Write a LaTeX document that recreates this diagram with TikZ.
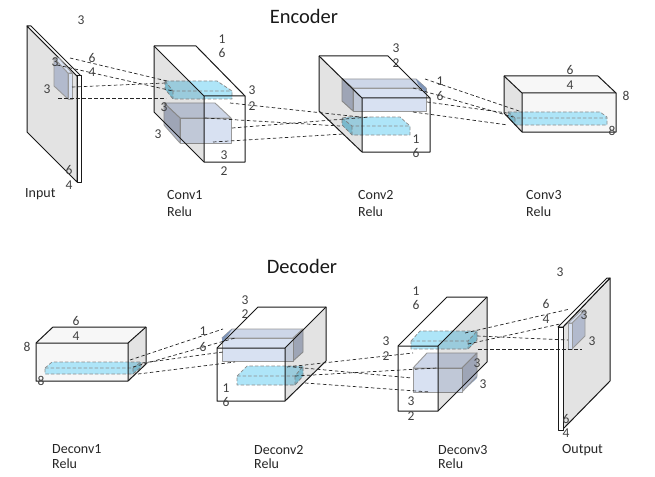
\documentclass[tikz,border=0pt]{standalone}
\usepackage{fontspec}
\setmainfont{Carlito}
\definecolor{cyanlight}{HTML}{AEE5F8}
\definecolor{cyanside}{HTML}{8BD0E6}
\definecolor{bluefront}{HTML}{D8E1F2}
\definecolor{bluetop}{HTML}{CDD6E8}
\definecolor{blueside}{HTML}{B2BACD}
\definecolor{bluedark}{HTML}{7F95B8}
\tikzset{
  dimtext/.style={font=\fontsize{13.5}{15}\selectfont, text=black!75, inner sep=0pt},
  captext/.style={font=\fontsize{14}{16}\selectfont, text=black!85, anchor=west, inner sep=0pt},
  titletext/.style={font=\fontsize{20.5}{23}\selectfont, text=black!90, inner sep=0pt},
  wire/.style={draw=black!90, line width=1pt, line join=round},
  shade/.style={fill=black, fill opacity=0.11},
  cyanbox/.style={draw=black!45, line width=0.7pt, line join=round, dash pattern=on 3.5pt off 2pt},
  bluebox/.style={draw=black!40, line width=0.9pt, line join=round},
  link/.style={draw=black!85, line width=0.7pt, dash pattern=on 3.5pt off 2.5pt}
}
\begin{document}
\begin{tikzpicture}[x=1pt, y=-1pt]
  \useasboundingbox (0,0) rectangle (655,476);
  \fill [white] (0,0) rectangle (655,476);

  % input slab
  \fill [black!11] (27,26) -- (77,76) -- (77,182) -- (27,132) -- cycle;
  \draw [wire] (27,26) -- (77,76) -- (77,182) -- (27,132) -- cycle;
  \draw [wire, fill=white] (27,26) -- (31,26) -- (81,76) -- (77,76) -- cycle;
  \draw [wire, fill=white] (77,76) rectangle (81,182);
  \draw [bluebox, fill=blueside] (54,58) -- (68,73) -- (68,99) -- (54,86) -- cycle;
  \draw [bluebox, fill=bluefront] (68,73) rectangle (72,99);
  \draw [bluebox, fill=bluefront] (54,58) -- (59,58) -- (72,73) -- (68,73) -- cycle;

  % conv1
  \fill [cyanlight] (165,81) -- (217,81) -- (232,91) -- (232,99) -- (173,99) -- (165,89) -- cycle;
  \fill [cyanside] (165,81) -- (173,91) -- (173,99) -- (165,89) -- cycle;
  \draw [cyanbox] (165,81) -- (217,81) -- (232,91) -- (232,99) -- (173,99) -- (165,89) -- cycle;
  \draw [cyanbox] (165,81) -- (173,91) -- (232,91) (173,91) -- (173,99);
  \fill [bluedark] (164,125) -- (180,143) -- (183,143) -- (166,125) -- cycle;
  \draw [bluebox, fill=bluetop] (164,103) -- (215,103) -- (231,118) -- (180,118) -- cycle;
  \draw [bluebox, fill=blueside] (164,103) -- (180,118) -- (180,143) -- (164,125) -- cycle;
  \draw [bluebox, fill=bluefront] (180,118) rectangle (231,143);
  \fill [shade] (154,46) -- (204,96) -- (204,162) -- (154,112) -- cycle;
  \draw [wire] (154,46) -- (196,46) -- (245,96) -- (245,162) -- (204,162) -- (154,112) -- cycle;
  \draw [wire] (154,46) -- (204,96) -- (204,162) (204,96) -- (245,96);

  % conv2
  \fill [cyanlight] (348,117) -- (400,117) -- (410,126) -- (410,135) -- (352,135) -- (342,125) -- (342,118) -- cycle;
  \fill [cyanside] (342,118) -- (352,126) -- (352,135) -- (342,125) -- cycle;
  \draw [cyanbox] (348,117) -- (400,117) -- (410,126) -- (410,135) -- (352,135) -- (342,125) -- (342,118) -- cycle;
  \draw [cyanbox] (342,118) -- (352,126) -- (410,126) (352,126) -- (352,135);
  \draw [bluebox, fill=bluetop] (342,79) -- (416,79) -- (426,88) -- (353,88) -- cycle;
  \draw [bluebox, fill=blueside] (342,79) -- (353,88) -- (353,111) -- (342,101) -- cycle;
  \draw [bluebox, fill=bluefront] (353,88) rectangle (426,111);
  \fill [bluedark] (416,79) -- (426,88) -- (426,93) -- (418,84) -- cycle;
  \fill [shade] (319,56) -- (362,98) -- (362,152) -- (319,111) -- cycle;
  \draw [wire] (319,56) -- (388,56) -- (430,98) -- (430,152) -- (362,152) -- (319,111) -- cycle;
  \draw [wire] (319,56) -- (362,98) -- (362,152) (362,98) -- (430,98);

  % conv3
  \fill [black!3] (504,76) -- (598,76) -- (616,93) -- (616,132) -- (522,132) -- (522,93) -- cycle;
  \fill [cyanlight] (513,112) -- (600,112) -- (607,117) -- (607,125) -- (515,125) -- (508,117) -- (508,112) -- cycle;
  \fill [cyanside] (508,112) -- (515,118) -- (515,125) -- (508,117) -- cycle;
  \draw [cyanbox] (508,112) -- (600,112) -- (607,117) -- (607,125) -- (515,125) -- (508,117) -- cycle;
  \draw [cyanbox] (508,112) -- (515,118) -- (607,118) (515,118) -- (515,125);
  \fill [shade] (504,76) -- (522,93) -- (522,132) -- (504,113) -- cycle;
  \draw [wire] (504,76) -- (598,76) -- (616,93) -- (616,132) -- (522,132) -- (504,113) -- cycle;
  \draw [wire] (504,76) -- (522,93) -- (522,132) (522,93) -- (616,93);

  % deconv1
  \fill [black!3] (36,343) -- (53,327) -- (146,327) -- (128,343) -- (128,381) -- (36,381) -- cycle;
  \fill [cyanlight] (45,368) -- (52,362) -- (141,362) -- (141,367) -- (133,374) -- (45,374) -- cycle;
  \fill [cyanside] (133,368) -- (141,362) -- (141,367) -- (133,374) -- cycle;
  \draw [cyanbox] (45,368) -- (52,362) -- (141,362) -- (141,367) -- (133,374) -- (45,374) -- cycle;
  \draw [cyanbox] (45,368) -- (133,368) -- (141,362) (133,368) -- (133,374);
  \fill [shade] (128,343) -- (146,327) -- (146,364) -- (128,381) -- cycle;
  \draw [wire] (36,343) -- (53,327) -- (146,327) -- (146,364) -- (128,381) -- (36,381) -- cycle;
  \draw [wire] (36,343) -- (128,343) -- (146,327) (128,343) -- (128,381);

  % deconv2
  \fill [cyanlight] (237,376) -- (247,366) -- (303,366) -- (303,376) -- (295,385) -- (237,385) -- cycle;
  \fill [cyanside] (295,376) -- (303,366) -- (303,376) -- (295,385) -- cycle;
  \draw [cyanbox] (237,376) -- (247,366) -- (303,366) -- (303,376) -- (295,385) -- (237,385) -- cycle;
  \draw [cyanbox] (237,376) -- (295,376) -- (303,366) (295,376) -- (295,385);
  \draw [bluebox, fill=bluetop] (222,338) -- (232,329) -- (303,329) -- (293,338) -- cycle;
  \draw [bluebox, fill=blueside] (293,338) -- (303,329) -- (303,352) -- (293,361) -- cycle;
  \draw [bluebox, fill=bluefront] (222,338) rectangle (293,361);
  \fill [bluedark] (232,329) -- (222,338) -- (222,343) -- (229,334) -- cycle;
  \fill [shade] (285,348) -- (326,307) -- (326,361) -- (285,401) -- cycle;
  \draw [wire] (217,348) -- (258,307) -- (326,307) -- (326,361) -- (285,401) -- (217,401) -- cycle;
  \draw [wire] (217,348) -- (285,348) -- (326,307) (285,348) -- (285,401);

  % deconv3
  \fill [cyanlight] (411,341) -- (420,331) -- (477,331) -- (477,340) -- (468,349) -- (411,349) -- cycle;
  \fill [cyanside] (468,341) -- (477,331) -- (477,340) -- (468,349) -- cycle;
  \draw [cyanbox] (411,341) -- (420,331) -- (477,331) -- (477,340) -- (468,349) -- (411,349) -- cycle;
  \draw [cyanbox] (411,341) -- (468,341) -- (477,331) (468,341) -- (468,349);
  \fill [bluedark] (477,372) -- (477,378) -- (462,392) -- (458,392) -- cycle;
  \draw [bluebox, fill=bluetop] (413,368) -- (427,353) -- (477,353) -- (462,368) -- cycle;
  \draw [bluebox, fill=blueside] (462,368) -- (477,353) -- (477,376) -- (462,392) -- cycle;
  \draw [bluebox, fill=bluefront] (413,368) rectangle (462,392);
  \fill [shade] (438,346) -- (487,297) -- (487,362) -- (438,411) -- cycle;
  \draw [wire] (398,346) -- (447,297) -- (487,297) -- (487,362) -- (438,411) -- (398,411) -- cycle;
  \draw [wire] (398,346) -- (438,346) -- (487,297) (438,346) -- (438,411);

  % output slab
  \fill [black!11] (563,327) -- (610,278) -- (610,381) -- (563,429) -- cycle;
  \draw [wire] (563,327) -- (610,278) -- (610,381) -- (563,429) -- cycle;
  \draw [wire, fill=white] (558,327) -- (607,278) -- (610,278) -- (563,327) -- cycle;
  \draw [wire, fill=white] (558,327) rectangle (563,430);
  \draw [bluebox, fill=blueside] (572,323) -- (585,310) -- (585,336) -- (572,349) -- cycle;
  \draw [bluebox, fill=bluefront] (568,323) rectangle (572,349);
  \draw [bluebox, fill=bluefront] (568,323) -- (582,310) -- (585,310) -- (572,323) -- cycle;

  % dashed links
  \foreach \ax/\ay/\bx/\by [count=\n] in {
      70/58/167/81, 57/65/173/91, 72/87/166/83, 58/98/166/98,
      230/103/360/117, 205/118/340/126, 232/128/370/117, 213/142/343/134,
      425/79/522/112, 413/88/513/117, 427/102/507/113, 413/112/508/125,
      130/360/223/329, 133/367/235/338, 142/363/223/352, 138/374/235/362,
      287/367/413/353, 293/367/412/378, 295/376/437/368, 305/383/430/392,
      465/333/570/309, 468/344/560/324, 477/336/568/340, 478/349/582/349}{
    \coordinate (from\n) at (\ax,\ay);
    \coordinate (to\n) at (\bx,\by);
    \draw [link] (from\n) -- (to\n);
  }

  % sizes
  \foreach \t/\x/\y [count=\n] in {
      3/81/20, 6/92/58, 4/92/72, 3/55/62, 3/47/89, 6/69/170, 4/69/185,
      1/222/39, 6/222/53, 3/252/90, 2/252/106, 3/164/107, 3/158/134, 3/224/155, 2/224/171,
      3/396/48, 2/396/63, 1/416/139, 6/416/153, 1/440/81, 6/440/96,
      6/570/70, 4/570/85, 8/626/96, 8/612/131,
      6/76/321, 4/76/336, 8/27/347, 8/41/381,
      3/245/300, 2/245/314, 1/203/331, 6/203/347, 1/226/388, 6/226/402,
      1/416/291, 6/416/305, 3/386/341, 2/386/356, 3/477/363, 3/483/384, 3/411/401, 2/411/416,
      3/560/272, 6/546/304, 4/546/319, 3/584/315, 3/592/341, 6/566/419, 4/566/433}{
    \node (dim\n) at (\x,\y) [dimtext] {\t};
  }

  \node (enc) at (304,16) [titletext] {Encoder};
  \node (dec) at (302,266) [titletext] {Decoder};

  \node (input) at (25,194) [captext] {Input};
  \node (conv1) at (167,195) [captext] {Conv1};
  \node (relu1) at (167,212) [captext] {Relu};
  \node (conv2) at (358,195) [captext] {Conv2};
  \node (relu2) at (358,212) [captext] {Relu};
  \node (conv3) at (526,195) [captext] {Conv3};
  \node (relu3) at (526,212) [captext] {Relu};
  \node (deconv1) at (52,449.5) [captext] {Deconv1};
  \node (relu4) at (52,464) [captext] {Relu};
  \node (deconv2) at (254,449.5) [captext] {Deconv2};
  \node (relu5) at (254,464) [captext] {Relu};
  \node (deconv3) at (438,449.5) [captext] {Deconv3};
  \node (relu6) at (438,464) [captext] {Relu};
  \node (output) at (562,450) [captext] {Output};
\end{tikzpicture}
\end{document}
